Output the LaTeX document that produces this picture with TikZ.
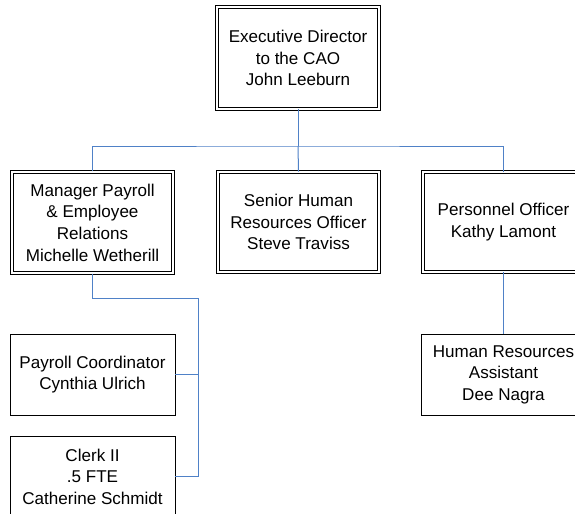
\documentclass[tikz,border=0pt]{standalone}
\usepackage{fontspec}
\setmainfont{Liberation Sans}
\begin{document}
\begin{tikzpicture}[x=0.75pt,y=-0.75pt,
  font=\fontsize{12.8}{16.2}\selectfont,
  every node/.style={align=center, inner sep=0pt, fill=white},
  dblbox/.style={draw=black, line width=0.6pt, double=white, double distance=1.6pt,
    minimum width=121pt, minimum height=#1},
  plainbox/.style={draw=black, line width=0.6pt, minimum width=123.75pt, minimum height=#1},
  link/.style={draw={rgb,255:red,79;green,129;blue,199}, line width=0.75pt}]
\clip (0,0) rectangle (575,514);
\fill[white] (0,0) rectangle (575,514);

% head of the unit
\node[dblbox=76pt] (ed) at (298,58) {Executive Director\\to the CAO\\John Leeburn};

% second tier
\node[dblbox=76pt] (mp) at (92.5,222.5) {Manager Payroll\\\& Employee\\Relations\\Michelle Wetherill};
\node[dblbox=75pt] (sh) at (298.5,222) {Senior Human\\Resources Officer\\Steve Traviss};
\node[dblbox=75pt] (po) at (503.5,222) {Personnel Officer\\Kathy Lamont};

% third tier
\node[plainbox=60.75pt] (pc) at (92.5,374.5) {Payroll Coordinator\\Cynthia Ulrich};
\node[plainbox=60.75pt] (cl) at (92.5,476.5) {Clerk II\\.5 FTE\\Catherine Schmidt};
\node[plainbox=60.75pt] (hr) at (503.5,374.5) {Human Resources\\Assistant\\Dee Nagra};

% reporting lines
\coordinate (hub) at (298,146);
\coordinate (bus) at (198,298);
\path[link] (ed.south) -- (hub);
\path[link] (mp.north) |- (hub) -| (po.north);
\path[link] (hub) -- (sh.north);
\path[link] (po.south) -- (hr.north);
\path[link] (mp.south) |- (bus) -- (bus |- cl.east) -- (cl.east);
\path[link] (pc.east) -- (pc.east -| bus);
\end{tikzpicture}
\end{document}
